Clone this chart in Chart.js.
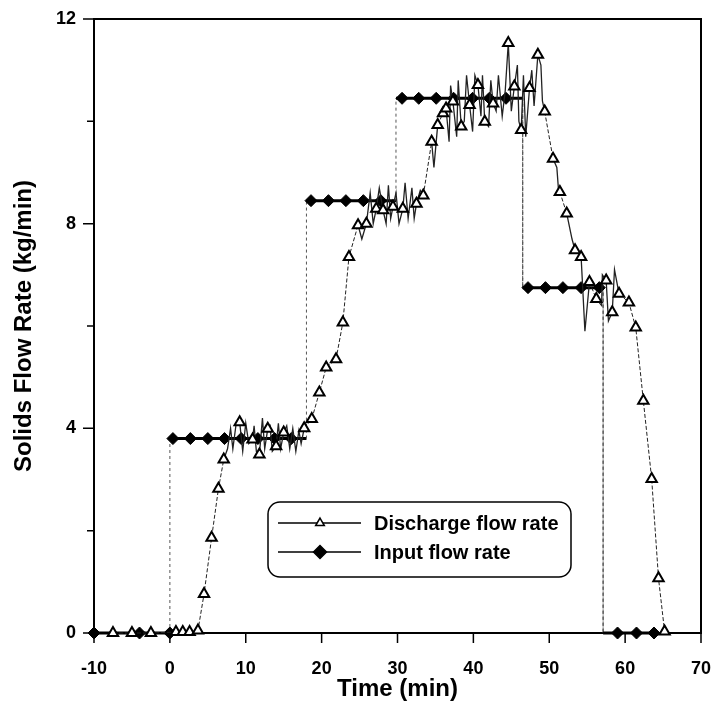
<!DOCTYPE html>
<html>
<head>
<meta charset="utf-8">
<script src="https://cdn.jsdelivr.net/npm/chart.js@4.4.1/dist/chart.umd.min.js"></script>
<style>
  html, body { margin: 0; padding: 0; background: #fff; }
  #wrap { width: 716px; height: 708px; }
</style>
</head>
<body>
<div id="wrap"><canvas id="flowChart"></canvas></div>
<script>
// Discharge flow rate, marked samples (triangles)
const dischargeTime = [-7.5, -5.0, -2.5, 0.8, 1.7, 2.6, 3.7, 4.5, 5.5, 6.4, 7.1, 9.2, 10.9, 11.8, 12.9, 14.0, 15.0,
  17.7, 18.7, 19.7, 20.6, 21.9, 22.8, 23.6, 24.8, 25.9, 27.2, 28.1, 29.4, 30.7, 32.5, 33.4, 34.5, 35.3, 36.0, 36.4,
  37.3, 38.4, 39.5, 40.6, 41.5, 42.6, 44.6, 45.4, 46.3, 47.4, 48.5, 49.4, 50.5, 51.4, 52.3, 53.4, 54.2, 55.3, 56.2,
  57.5, 58.3, 59.2, 60.5, 61.4, 62.4, 63.5, 64.4, 65.2];
const dischargeRate = [0, 0, 0, 0.02, 0.02, 0.02, 0.05, 0.76, 1.86, 2.82, 3.39, 4.12, 3.78, 3.49, 3.99, 3.65, 3.92,
  4.0, 4.18, 4.7, 5.19, 5.35, 6.07, 7.35, 7.97, 8.0, 8.29, 8.26, 8.33, 8.29, 8.39, 8.55, 9.6, 9.93, 10.16, 10.25,
  10.39, 9.9, 10.32, 10.71, 9.99, 10.35, 11.53, 10.68, 9.83, 10.65, 11.3, 10.19, 9.27, 8.62, 8.2, 7.48, 7.35, 6.86, 6.53,
  6.89, 6.27, 6.63, 6.46, 5.97, 4.54, 3.01, 1.07, 0.03];

// Discharge flow rate, unmarked noisy samples between the triangles
const spikeTime = [7.6, 8.0, 8.3, 8.7, 9.6, 10.0, 10.4, 11.1, 11.4, 12.2, 12.5, 13.2, 13.5, 14.3, 14.6, 15.4, 15.8,
  16.2, 16.6, 17.0, 17.3, 25.3, 26.4, 26.8, 27.6, 28.5, 28.8, 29.1, 29.8, 30.2, 31.0, 31.4, 31.9, 32.2, 33.0, 34.8,
  36.8, 37.0, 37.8, 38.0, 38.8, 39.1, 39.9, 40.2, 41.0, 41.2, 42.0, 42.3, 43.0, 43.3, 43.8, 44.2, 45.0, 45.8, 46.0,
  46.6, 46.9, 47.7, 48.0, 48.9, 49.1, 51.0, 51.2, 53.0, 54.7, 56.9, 57.0, 57.8, 58.6];
const spikeRate = [3.6, 4.0, 3.6, 4.05, 3.55, 4.1, 3.7, 4.05, 3.55, 4.2, 3.6, 4.05, 3.55, 4.1, 3.6, 4.05, 3.6,
  4.0, 3.55, 3.95, 3.7, 7.7, 8.6, 8.0, 8.7, 8.0, 8.75, 8.1, 8.6, 8.0, 8.8, 8.1, 8.7, 8.1, 8.65, 9.1,
  9.6, 10.7, 9.7, 10.8, 10.0, 10.9, 9.8, 10.9, 10.1, 10.9, 9.9, 10.8, 10.2, 10.9, 10.1, 10.6, 10.2, 11.1, 10.0,
  10.9, 9.7, 11.0, 10.3, 11.1, 10.4, 9.1, 8.7, 7.7, 5.9, 6.4, 7.0, 6.1, 7.1];

// Input flow rate (diamonds) and the times where it steps
const inputTime = [-10, -4, 0, 0.4, 2.7, 5.0, 7.2, 9.4, 11.6, 13.8, 16.0, 18.6, 20.9, 23.2, 25.5, 27.8,
  30.6, 32.8, 35.1, 37.4, 39.9, 42.1, 44.3, 47.2, 49.5, 51.8, 54.2, 56.6, 59.0, 61.5, 63.8];
const inputRate = [0, 0, 0, 3.8, 3.8, 3.8, 3.8, 3.8, 3.8, 3.8, 3.8, 8.45, 8.45, 8.45, 8.45, 8.45,
  10.45, 10.45, 10.45, 10.45, 10.45, 10.45, 10.45, 6.75, 6.75, 6.75, 6.75, 6.75, 0, 0, 0];
const inputStepTime = [0, 18.0, 29.8, 46.5, 57.1];

const xTicks = [-10, 0, 10, 20, 30, 40, 50, 60, 70];
const yTicks = [0, 4, 8, 12];
const yMinorTicks = [2, 6, 10];
const seriesNames = ['Discharge flow rate', 'Input flow rate'];

const dischargePoints = dischargeTime.map((t, i) => ({ x: t, y: dischargeRate[i], mark: true }))
  .concat(spikeTime.map((t, i) => ({ x: t, y: spikeRate[i], mark: false })))
  .sort((a, b) => a.x - b.x);

const inputPoints = [];
let stepIdx = 0;
inputTime.forEach((t, i) => {
  if (i > 0 && inputRate[i] !== inputRate[i - 1]) {
    const ts = inputStepTime[stepIdx++];
    inputPoints.push({ x: ts, y: inputRate[i - 1], mark: false });
    inputPoints.push({ x: ts, y: inputRate[i], mark: false });
  }
  inputPoints.push({ x: t, y: inputRate[i], mark: true });
});

const isVertical = (ctx) => Math.abs(ctx.p0.x - ctx.p1.x) < 1;
const isSpike = (ctx) => !dischargePoints[ctx.p0DataIndex].mark || !dischargePoints[ctx.p1DataIndex].mark;

// frame + outward tick marks
const axisFrame = {
  id: 'axisFrame',
  beforeDatasetsDraw(chart) {
    const { ctx, chartArea: a, scales } = chart;
    ctx.save();
    ctx.strokeStyle = '#000';
    ctx.lineWidth = 2;
    ctx.strokeRect(a.left, a.top, a.right - a.left, a.bottom - a.top);
    ctx.lineWidth = 1.5;
    ctx.beginPath();
    xTicks.forEach(v => {
      const px = scales.x.getPixelForValue(v);
      ctx.moveTo(px, a.bottom);
      ctx.lineTo(px, a.bottom + 10);
    });
    yTicks.forEach(v => {
      const py = scales.y.getPixelForValue(v);
      ctx.moveTo(a.left, py);
      ctx.lineTo(a.left - 11, py);
    });
    yMinorTicks.forEach(v => {
      const py = scales.y.getPixelForValue(v);
      ctx.moveTo(a.left, py);
      ctx.lineTo(a.left - 7, py);
    });
    ctx.stroke();
    ctx.restore();
  }
};

// legend drawn inside the plot: line sample with marker, then label
const legendBox = {
  id: 'legendBox',
  afterDatasetsDraw(chart) {
    const { ctx } = chart;
    const bx = 268, by = 502, bw = 303, bh = 75, r = 12;
    ctx.save();
    ctx.fillStyle = '#fff';
    ctx.strokeStyle = '#000';
    ctx.lineWidth = 1.5;
    ctx.beginPath();
    ctx.roundRect(bx, by, bw, bh, r);
    ctx.fill();
    ctx.stroke();

    const rows = [523, 552];
    chart.data.datasets.forEach((ds, i) => {
      const y = rows[i];
      ctx.strokeStyle = '#000';
      ctx.lineWidth = 1.5;
      ctx.setLineDash([]);
      ctx.beginPath();
      ctx.moveTo(278, y);
      ctx.lineTo(361, y);
      ctx.stroke();
      ctx.fillStyle = i === 0 ? '#fff' : '#000';
      Chart.helpers.drawPoint(ctx, {
        pointStyle: ds.pointStyle,
        radius: i === 0 ? 5 : 6.5,
        borderWidth: 2
      }, 320, y);
      ctx.fillStyle = '#000';
      ctx.font = 'bold 20px "Liberation Sans", Arial, sans-serif';
      ctx.textBaseline = 'middle';
      ctx.textAlign = 'left';
      ctx.fillText(ds.label, 374, y + 1);
    });
    ctx.restore();
  }
};

const tickFont = { family: '"Liberation Sans", Arial, sans-serif', size: 18, weight: 'bold' };
const titleFont = { family: '"Liberation Sans", Arial, sans-serif', size: 24, weight: 'bold' };

new Chart(document.getElementById('flowChart'), {
  type: 'line',
  data: {
    datasets: [
      {
        label: seriesNames[0],
        data: dischargePoints,
        parsing: false,
        borderColor: '#222',
        borderWidth: 1,
        borderDash: [4, 2],
        segment: {
          borderDash: ctx => isSpike(ctx) ? [] : [4, 2],
          borderWidth: ctx => isSpike(ctx) ? 1.3 : 1
        },
        pointStyle: 'triangle',
        pointRadius: ctx => ctx.raw && ctx.raw.mark ? 6 : 0,
        pointBackgroundColor: '#fff',
        pointBorderColor: '#000',
        pointBorderWidth: 2,
        tension: 0,
        clip: false
      },
      {
        label: seriesNames[1],
        data: inputPoints,
        parsing: false,
        borderColor: '#000',
        borderWidth: 3,
        segment: {
          borderWidth: ctx => isVertical(ctx) ? 1 : 3,
          borderDash: ctx => isVertical(ctx) ? [3, 3] : [],
          borderColor: ctx => isVertical(ctx) ? '#555' : '#000'
        },
        pointStyle: 'rectRot',
        pointRadius: ctx => ctx.raw && ctx.raw.mark ? 6 : 0,
        pointBackgroundColor: '#000',
        pointBorderColor: '#000',
        pointBorderWidth: 1,
        tension: 0,
        clip: false
      }
    ]
  },
  options: {
    responsive: true,
    maintainAspectRatio: false,
    animation: false,
    events: [],
    layout: { padding: { top: 19, right: 15, left: 0, bottom: 0 } },
    plugins: {
      legend: { display: false },
      tooltip: { enabled: false }
    },
    scales: {
      x: {
        type: 'linear',
        min: -10,
        max: 70,
        grid: { display: false, drawTicks: false },
        border: { display: false },
        afterBuildTicks: scale => { scale.ticks = xTicks.map(v => ({ value: v })); },
        afterFit: scale => {
          scale.height = 75;
          scale.paddingLeft = 0;
          scale.paddingRight = 0;
        },
        ticks: { color: '#000', padding: 25, maxRotation: 0, font: tickFont },
        title: {
          display: true,
          text: 'Time (min)',
          color: '#000',
          padding: { top: 0, bottom: 4 },
          font: titleFont
        }
      },
      y: {
        min: 0,
        max: 12,
        grid: { display: false, drawTicks: false },
        border: { display: false },
        afterBuildTicks: scale => { scale.ticks = yTicks.map(v => ({ value: v })); },
        afterFit: scale => {
          scale.width = 94;
          scale.paddingTop = 0;
          scale.paddingBottom = 0;
        },
        ticks: { color: '#000', padding: 18, font: tickFont },
        title: {
          display: true,
          text: 'Solids Flow Rate (kg/min)',
          color: '#000',
          padding: { top: 10, bottom: 0 },
          font: titleFont
        }
      }
    }
  },
  plugins: [axisFrame, legendBox]
});
</script>
</body>
</html>
